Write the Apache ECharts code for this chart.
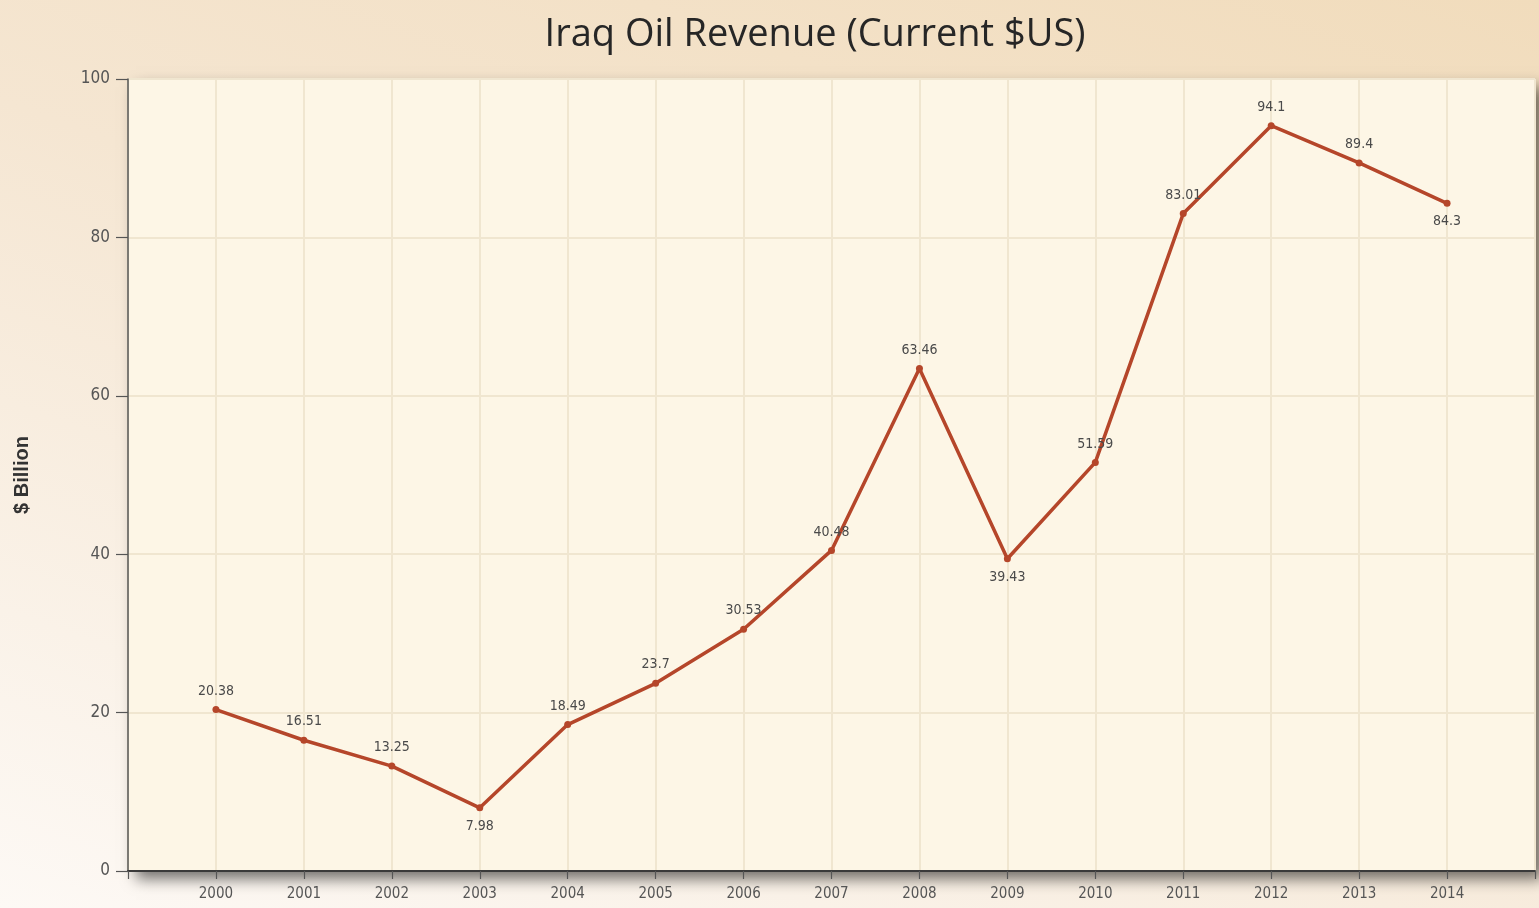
<!DOCTYPE html>
<html>
<head>
<meta charset="utf-8">
<title>Iraq Oil Revenue (Current $US)</title>
<script src="https://cdn.jsdelivr.net/npm/echarts@6/dist/echarts.min.js"></script>
<style>
  html, body { margin: 0; padding: 0; width: 100%; height: 100%; }
  body { background: linear-gradient(200deg, #f1dcbc 0%, #f5e6d2 45%, #fdf9f5 100%); }
  #chart { width: 1539px; height: 908px; }
</style>
</head>
<body>
<div id="chart"></div>
<script>
// Annual oil revenue, billions of current US dollars
const years = [2000, 2001, 2002, 2003, 2004, 2005, 2006, 2007, 2008, 2009, 2010, 2011, 2012, 2013, 2014];
const revenue = [20.38, 16.51, 13.25, 7.98, 18.49, 23.7, 30.53, 40.48, 63.46, 39.43, 51.59, 83.01, 94.1, 89.4, 84.3];
// Points whose value label sits under the marker
const labelBelow = [2003, 2009, 2014];
const yTicks = [0, 20, 40, 60, 80, 100];

const narrow = "'Liberation Sans Narrow', 'DejaVu Sans Condensed', 'Roboto', sans-serif";

const chart = echarts.init(document.getElementById('chart'), null, { renderer: 'canvas' });

const points = years.map((y, i) => ({
  value: [y, revenue[i]],
  label: { position: labelBelow.includes(y) ? 'bottom' : 'top' }
}));

chart.setOption({
  backgroundColor: 'transparent',
  animation: false,
  title: {
    text: 'Iraq Oil Revenue (Current $US)',
    top: 11,
    left: 810,
    textAlign: 'center',
    textStyle: {
      fontFamily: "'Open Sans', sans-serif",
      fontSize: 38,
      fontWeight: 'normal',
      color: '#262626'
    }
  },
  grid: {
    left: 128,
    right: 4,
    top: 79,
    bottom: 37,
    show: true,
    backgroundColor: '#fdf6e6',
    borderWidth: 0,
    shadowColor: 'rgba(0,0,0,0.55)',
    shadowBlur: 14,
    shadowOffsetX: 8,
    shadowOffsetY: 8
  },
  xAxis: {
    type: 'value',
    min: 1999,
    max: 2015,
    interval: 1,
    axisLine: { show: true, onZero: false, lineStyle: { color: '#3a3a3a', width: 2 } },
    axisTick: { show: true, length: 8, lineStyle: { color: '#555', width: 1.2 } },
    axisLabel: {
      margin: 16,
      fontFamily: narrow,
      fontSize: 15,
      color: '#555',
      formatter: v => (years.includes(v) ? String(v) : '')
    },
    splitLine: { show: true, lineStyle: { color: '#f0e6d0', width: 2 } }
  },
  yAxis: {
    type: 'value',
    min: 0,
    max: 100,
    interval: 20,
    name: '$ Billion',
    nameLocation: 'middle',
    nameGap: 96,
    nameRotate: 90,
    nameTextStyle: {
      fontFamily: "'Liberation Sans', Arial, sans-serif",
      fontSize: 20,
      fontWeight: 'bold',
      color: '#333'
    },
    axisLine: { show: true, lineStyle: { color: '#555', width: 1.5 } },
    axisTick: { show: true, inside: false, length: 12, lineStyle: { color: '#555', width: 1.2 } },
    axisLabel: {
      margin: 18,
      fontFamily: narrow,
      fontSize: 17,
      color: '#555',
      formatter: v => (yTicks.includes(v) ? String(v) : '')
    },
    splitLine: { show: true, lineStyle: { color: '#f0e6d0', width: 2 } }
  },
  series: [{
    type: 'line',
    data: points,
    symbol: 'circle',
    symbolSize: 7,
    lineStyle: { color: '#b5462a', width: 3.5 },
    itemStyle: { color: '#b5462a' },
    label: {
      show: true,
      distance: 8,
      fontFamily: narrow,
      fontSize: 14,
      color: '#4a4a4a',
      formatter: p => String(p.value[1])
    }
  }]
});
</script>
</body>
</html>
